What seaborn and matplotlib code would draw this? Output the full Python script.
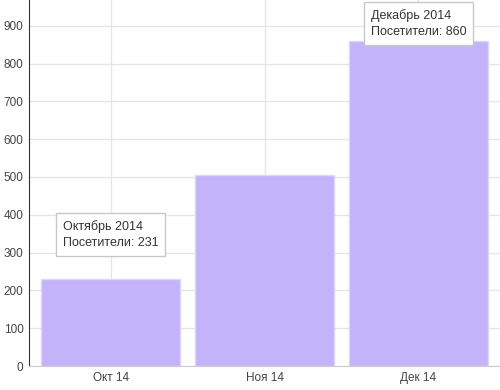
import matplotlib
matplotlib.use("Agg")
import matplotlib.pyplot as plt
import pandas as pd
import seaborn as sns

months = ["Окт 14", "Ноя 14", "Дек 14"]
visitors = [231, 505, 860]
tooltip_titles = ["Октябрь 2014", "Декабрь 2014"]
tooltip_idx = [0, 2]
tooltip_y = [348, 905]

sns.set_style("white")
plt.rcParams["font.family"] = ["Liberation Sans", "DejaVu Sans"]

df = pd.DataFrame({"month": months, "visitors": visitors})

fig = plt.figure(figsize=(5, 3.9), dpi=100)
ax = fig.add_axes([0.058, 0.0615, 0.942, 0.9385])

sns.barplot(data=df, x="month", y="visitors", color="#c3b3f8", saturation=1,
            width=0.9, edgecolor="#ddd5fb", linewidth=1, ax=ax, zorder=2)

ax.set_xlim(-0.53, 2.53)
ax.set_ylim(0, 968)
ax.set_yticks(range(0, 1000, 100))
ax.grid(True, color="#e6e6e6", linewidth=1, zorder=0)
ax.set_axisbelow(True)
ax.set_xlabel("")
ax.set_ylabel("")
ax.tick_params(axis="both", length=0, labelsize=8.5, colors="#444444", pad=4)

for s in ["top", "right"]:
    ax.spines[s].set_visible(False)
ax.spines["left"].set_color("#333333")
ax.spines["bottom"].set_color("#cccccc")

for title, i, y in zip(tooltip_titles, tooltip_idx, tooltip_y):
    ax.text(i - 0.31, y, f"{title}\nПосетители: {visitors[i]}", ha="left", va="center",
            fontsize=9, color="#333333", linespacing=1.45, zorder=5,
            bbox=dict(boxstyle="square,pad=0.55", fc="white", ec="#c8c8c8", lw=1))

fig.savefig("out.png", dpi=100)
